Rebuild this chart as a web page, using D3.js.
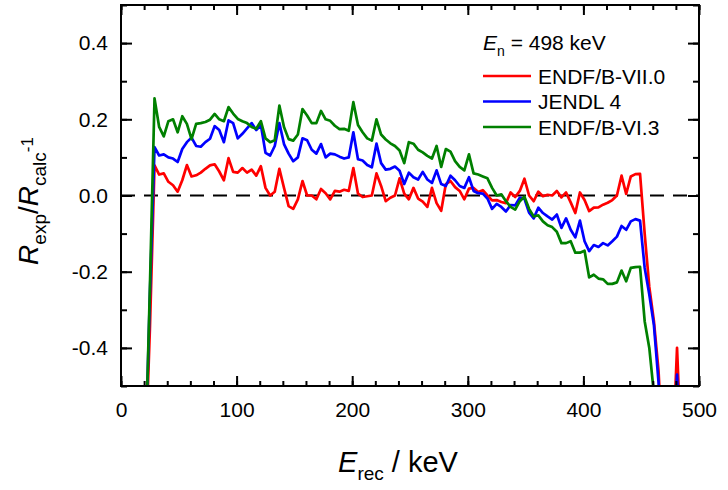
<!DOCTYPE html>
<html>
<head>
<meta charset="utf-8">
<script src="https://cdn.jsdelivr.net/npm/d3@7"></script>
<style>
  body { margin: 0; background: #fff; }
  text { font-family: "Liberation Sans", Arial, sans-serif; fill: #000; }
</style>
</head>
<body>
<svg id="chart" width="728" height="490"></svg>
<script>
// Recoil energy grid (keV), shared by all three evaluations
const energy = [
  21, 25, 29, 33, 37, 41, 45, 49, 53, 57,
  61, 65, 69, 73, 77, 81, 85, 89, 93, 97,
  101, 105, 109, 113, 117, 121, 125, 129, 133, 137,
  141, 145, 149, 153, 157, 161, 165, 169, 173, 177,
  181, 185, 189, 193, 197, 201, 205, 209, 213, 217,
  221, 225, 229, 233, 237, 241, 245, 249, 253, 257,
  261, 265, 269, 273, 277, 281, 285, 289, 293, 297,
  301, 305, 309, 313, 317, 321, 325, 329, 333, 337,
  341, 345, 349, 353, 357, 361, 365, 369, 373, 377,
  381, 385, 389, 393, 397, 401, 405, 409, 413, 417,
  421, 425, 429, 433, 437, 441, 445, 449, 453, 457,
  461, 465, 469, 473, 477, 481, 485, 489
];

// R_exp/R_calc - 1 for each evaluation
const endfb7 = [
  -0.70, -0.35, 0.079, 0.055, 0.058, 0.036, 0.027, 0.010, 0.040, 0.080,
  0.050, 0.053, 0.060, 0.070, 0.079, 0.082, 0.063, 0.040, 0.098, 0.062,
  0.060, 0.072, 0.060, 0.068, 0.052, 0.077, 0.020, 0.000, 0.010, 0.070,
  0.020, -0.028, -0.035, -0.010, 0.038, 0.000, 0.000, -0.010, 0.017, 0.006,
  -0.010, 0.012, 0.010, 0.015, 0.012, 0.072, 0.005, -0.004, -0.002, 0.000,
  0.058, 0.025, -0.015, -0.006, 0.000, 0.045, 0.005, -0.010, 0.020, -0.008,
  -0.016, -0.030, 0.020, -0.020, -0.040, 0.030, 0.038, 0.022, 0.012, -0.010,
  0.018, 0.020, 0.009, 0.014, 0.000, -0.013, -0.012, -0.017, -0.020, 0.008,
  -0.004, 0.012, 0.044, 0.000, -0.015, 0.010, -0.002, 0.002, 0.000, 0.012,
  -0.005, 0.008, -0.018, -0.046, 0.008, -0.012, -0.041, -0.032, -0.031, -0.024,
  -0.019, -0.012, 0.000, 0.052, 0.004, 0.050, 0.056, 0.057, -0.100, -0.240,
  -0.330, -0.460, -0.70, -0.70, -0.70, -0.400, -0.70, -0.70
];
const jendl4 = [
  -0.70, -0.26, 0.127, 0.105, 0.108, 0.100, 0.097, 0.088, 0.122, 0.140,
  0.152, 0.130, 0.128, 0.140, 0.149, 0.182, 0.172, 0.140, 0.197, 0.190,
  0.150, 0.162, 0.176, 0.190, 0.172, 0.185, 0.112, 0.105, 0.130, 0.190,
  0.135, 0.110, 0.090, 0.100, 0.150, 0.145, 0.120, 0.110, 0.135, 0.100,
  0.110, 0.108, 0.102, 0.097, 0.100, 0.166, 0.095, 0.092, 0.080, 0.074,
  0.136, 0.085, 0.068, 0.070, 0.076, 0.065, 0.030, 0.060, 0.048, 0.042,
  0.062, 0.042, 0.033, 0.066, 0.030, 0.025, 0.052, 0.040, 0.025, 0.020,
  0.048, 0.012, 0.006, 0.005, -0.008, -0.035, -0.022, -0.030, -0.042, -0.025,
  -0.026, -0.006, -0.009, -0.045, -0.060, -0.032, -0.046, -0.055, -0.063, -0.050,
  -0.085, -0.060, -0.090, -0.110, -0.066, -0.120, -0.146, -0.130, -0.135, -0.125,
  -0.131, -0.120, -0.108, -0.080, -0.090, -0.068, -0.062, -0.066, -0.190, -0.260,
  -0.340, -0.490, -0.70, -0.70, -0.70, -0.470, -0.70, -0.70
];
const endfb6 = [
  -0.70, -0.24, 0.255, 0.180, 0.155, 0.195, 0.200, 0.166, 0.208, 0.188,
  0.148, 0.188, 0.190, 0.193, 0.199, 0.214, 0.200, 0.195, 0.232, 0.215,
  0.201, 0.195, 0.190, 0.180, 0.175, 0.195, 0.150, 0.140, 0.145, 0.236,
  0.180, 0.148, 0.144, 0.160, 0.227, 0.210, 0.190, 0.190, 0.222, 0.200,
  0.196, 0.183, 0.174, 0.175, 0.170, 0.245, 0.185, 0.166, 0.150, 0.144,
  0.200, 0.160, 0.147, 0.137, 0.130, 0.118, 0.085, 0.140, 0.136, 0.120,
  0.113, 0.104, 0.097, 0.130, 0.075, 0.122, 0.115, 0.090, 0.075, 0.066,
  0.108, 0.058, 0.055, 0.050, 0.045, 0.020, 0.000, 0.003, -0.015, -0.030,
  -0.037, -0.015, -0.003, -0.035, -0.055, -0.052, -0.068, -0.078, -0.083, -0.095,
  -0.125, -0.125, -0.120, -0.150, -0.150, -0.145, -0.215, -0.208, -0.218, -0.220,
  -0.232, -0.232, -0.228, -0.197, -0.225, -0.190, -0.188, -0.187, -0.330, -0.400,
  -0.520, -0.70, -0.70, -0.70, -0.70, -0.70, -0.70, -0.70
];

const seriesNames = ["ENDF/B-VII.0", "JENDL 4", "ENDF/B-VI.3"];
const seriesColors = ["#ff0000", "#0000ff", "#008000"];

const xTicks = [0, 100, 200, 300, 400, 500];
const xMinorTicks = d3.range(0, 501, 20);
const yTicks = [-0.4, -0.2, 0.0, 0.2, 0.4];
const yTickLabels = ["-0.4", "-0.2", "0.0", "0.2", "0.4"];
const yMinorTicks = [-0.5, -0.4, -0.3, -0.2, -0.1, 0.0, 0.1, 0.2, 0.3, 0.4, 0.5];

const svg = d3.select("#chart");
const plotLeft = 121, plotRight = 699, plotTop = 5, plotBottom = 386;

const x = d3.scaleLinear().domain([0, 500]).range([plotLeft, plotRight]);
const y = d3.scaleLinear().domain([-0.5, 0.5]).range([plotBottom, plotTop]);

// clip region for the curves
svg.append("defs").append("clipPath").attr("id", "plotClip")
  .append("rect")
  .attr("x", plotLeft).attr("y", plotTop)
  .attr("width", plotRight - plotLeft).attr("height", plotBottom - plotTop);

// zero reference line
svg.append("line")
  .attr("x1", x(0)).attr("x2", x(500))
  .attr("y1", y(0)).attr("y2", y(0))
  .attr("stroke", "#000").attr("stroke-width", 2)
  .attr("stroke-dasharray", "14,9");

// data curves
const seriesData = [endfb7, jendl4, endfb6];
const line = d3.line()
  .x(d => x(d[0]))
  .y(d => y(d[1]));

const curves = svg.append("g").attr("clip-path", "url(#plotClip)");
seriesData.forEach((vals, i) => {
  curves.append("path")
    .datum(energy.map((e, k) => [e, vals[k]]))
    .attr("fill", "none")
    .attr("stroke", seriesColors[i])
    .attr("stroke-width", 2.7)
    .attr("stroke-linejoin", "round")
    .attr("d", line);
});

// axes: ticks point into the plot on all four sides
function styleAxis(g) {
  g.select(".domain").remove();
  g.selectAll(".tick line").attr("stroke", "#000").attr("stroke-width", 2);
  g.selectAll(".tick text")
    .style("font-family", '"Liberation Sans", Arial, sans-serif')
    .style("font-size", "21px")
    .attr("fill", "#000");
}

svg.append("g").attr("transform", `translate(0,${plotBottom})`)
  .call(d3.axisBottom(x).tickValues(xMinorTicks).tickSize(-5).tickFormat(""))
  .call(styleAxis);
svg.append("g").attr("transform", `translate(0,${plotBottom})`)
  .call(d3.axisBottom(x).tickValues(xTicks).tickSize(-10).tickPadding(16).tickFormat(d3.format("d")))
  .call(styleAxis);
svg.append("g").attr("transform", `translate(0,${plotTop})`)
  .call(d3.axisTop(x).tickValues(xMinorTicks).tickSize(-5).tickFormat(""))
  .call(styleAxis);
svg.append("g").attr("transform", `translate(0,${plotTop})`)
  .call(d3.axisTop(x).tickValues(xTicks).tickSize(-10).tickFormat(""))
  .call(styleAxis);

svg.append("g").attr("transform", `translate(${plotLeft},0)`)
  .call(d3.axisLeft(y).tickValues(yMinorTicks).tickSize(-6).tickFormat(""))
  .call(styleAxis);
svg.append("g").attr("transform", `translate(${plotLeft},0)`)
  .call(d3.axisLeft(y).tickValues(yTicks).tickSize(-11).tickPadding(13)
    .tickFormat((d, i) => yTickLabels[i]))
  .call(styleAxis);
svg.append("g").attr("transform", `translate(${plotRight},0)`)
  .call(d3.axisRight(y).tickValues(yMinorTicks).tickSize(-6).tickFormat(""))
  .call(styleAxis);
svg.append("g").attr("transform", `translate(${plotRight},0)`)
  .call(d3.axisRight(y).tickValues(yTicks).tickSize(-11).tickFormat(""))
  .call(styleAxis);

// frame
svg.append("rect")
  .attr("x", plotLeft).attr("y", plotTop)
  .attr("width", plotRight - plotLeft).attr("height", plotBottom - plotTop)
  .attr("fill", "none").attr("stroke", "#000").attr("stroke-width", 2);

// axis titles
const xt = svg.append("text")
  .attr("x", 398).attr("y", 472)
  .attr("text-anchor", "middle")
  .style("font-size", "29px");
xt.append("tspan").style("font-style", "italic").text("E");
xt.append("tspan").attr("dy", 8).style("font-size", "19px").text("rec");
xt.append("tspan").attr("dy", -8).text(" / keV");

const yt = svg.append("text")
  .attr("transform", "translate(38,201) rotate(-90)")
  .attr("text-anchor", "middle")
  .style("font-size", "28px");
yt.append("tspan").style("font-style", "italic").text("R");
yt.append("tspan").attr("dy", 8).style("font-size", "19px").text("exp");
yt.append("tspan").attr("dy", -8).text("/");
yt.append("tspan").style("font-style", "italic").text("R");
yt.append("tspan").attr("dy", 8).style("font-size", "19px").text("calc");
yt.append("tspan").attr("dy", -13).style("font-size", "17px").text("-1");

// legend
const lg = svg.append("g");
const en = lg.append("text").attr("x", 483).attr("y", 50).style("font-size", "21px");
en.append("tspan").style("font-style", "italic").text("E");
en.append("tspan").attr("dy", 6).style("font-size", "14px").text("n");
en.append("tspan").attr("dy", -6).text(" = 498 keV");

seriesNames.forEach((name, i) => {
  const yy = 76 + i * 25.5;
  lg.append("line")
    .attr("x1", 483).attr("x2", 531)
    .attr("y1", yy).attr("y2", yy)
    .attr("stroke", seriesColors[i]).attr("stroke-width", 2.7);
  lg.append("text")
    .attr("x", 538).attr("y", yy + 7.5)
    .style("font-size", "21px")
    .text(name);
});
</script>
</body>
</html>
